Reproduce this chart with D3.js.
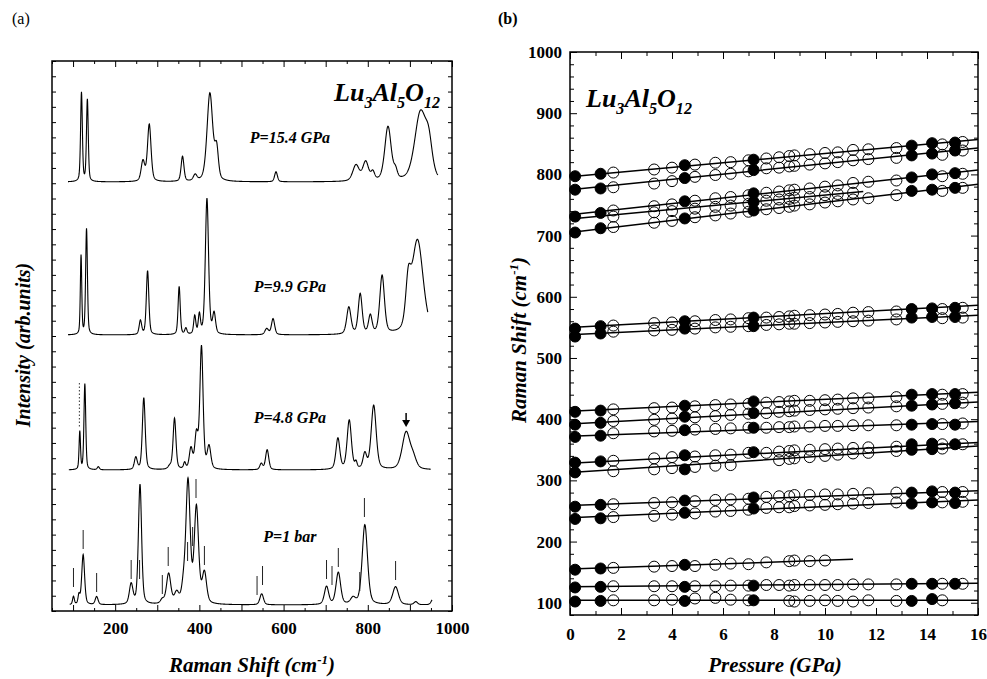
<!DOCTYPE html>
<html>
<head>
<meta charset="utf-8">
<script src="https://cdnjs.cloudflare.com/ajax/libs/d3/7.8.5/d3.min.js"></script>
<style>
body { margin: 0; background: #fff; }
text { font-family: "Liberation Serif", "Times New Roman", serif; }
</style>
</head>
<body>
<script>
// ---- panel (a): Raman spectra, peaks: [centre cm-1, height, fwhm]
var peaks1bar = [[101, 8, 5], [114, 9, 5], [124, 50, 8], [156, 8, 8], [238, 20, 10], [259, 120, 9],
    [312, 4, 10], [327, 30, 12], [346, 10, 12], [362, 14, 10], [373, 122, 12], [393, 95, 12],
    [412, 30, 12], [548, 11, 10], [702, 18, 12], [730, 32, 13], [765, 6, 14], [793, 80, 15],
    [866, 18, 16], [914, 3, 10], [955, 6, 10]];
var peaks48 = [[116, 38, 4], [128, 86, 5], [160, 3, 6], [249, 12, 8], [268, 72, 8], [330, 3, 10],
    [341, 51, 8], [365, 6, 6], [380, 20, 9], [393, 33, 9], [405, 122, 9], [423, 22, 10],
    [547, 6, 8], [561, 20, 9], [729, 31, 11], [756, 49, 12], [772, 6, 6], [793, 15, 10],
    [814, 64, 14], [891, 37, 22], [908, 10, 18]];
var peaks99 = [[119, 79, 4], [132, 106, 5], [260, 14, 7], [277, 64, 7], [352, 48, 6], [368, 6, 6],
    [389, 18, 6], [400, 19, 6], [418, 136, 9], [435, 20, 8], [560, 6, 10], [575, 16, 9],
    [755, 27, 12], [782, 40, 11], [806, 18, 10], [834, 58, 13], [896, 40, 14], [918, 94, 32]];
var peaks154 = [[120, 89, 5], [134, 82, 5], [266, 20, 10], [281, 57, 10], [360, 25, 8], [390, 6, 10],
    [425, 88, 16], [441, 30, 10], [582, 10, 8], [772, 16, 18], [795, 19, 16], [812, 8, 10],
    [848, 54, 18], [866, 8, 10], [925, 68, 32], [945, 30, 20]];
var specPeaks = [peaks1bar, peaks48, peaks99, peaks154];
var specNames = ["P=1 bar", "P=4.8 GPa", "P=9.9 GPa", "P=15.4 GPa"];
var specStart = [92, 90, 88, 88];
var specEnd = [953, 950, 943, 967];
var specOffset = [6, 141, 276, 429];
// mode marks over the 1 bar spectrum: [cm-1, top]
var modeMarks = [[101, 43], [124, 81], [156, 38], [238, 51], [258, 51], [312, 36], [326, 64],
    [372, 69], [384, 84], [392, 132], [412, 65], [537, 35], [550, 45], [702, 51], [715, 45],
    [730, 63], [781, 39], [792, 113], [866, 50]];

// ---- panel (b): mode frequencies vs pressure
var pressures = [0.2, 1.2, 1.7, 3.3, 4.0, 4.5, 4.9, 5.7, 6.3, 7.0, 7.2, 7.7, 8.2, 8.6, 8.8, 9.4,
    10.0, 10.5, 11.1, 11.7, 12.8, 13.4, 14.2, 14.6, 15.1, 15.4];
var filledRun = [1, 1, 0, 0, 0, 1, 0, 0, 0, 0, 1, 0, 0, 0, 0, 0, 0, 0, 0, 0, 0, 1, 1, 0, 1, 0];
var _ = null;
var modeShifts = [
    [797, 801, 803, 808, 811, 815, 816, 819, 820, 823, 824, 826, 828, 830, 831, 833, 835, 836, 840, 841, 843, 847, 851, 849, 852, 853],
    [775, 777, 779, 785, 789, 794, 796, 799, 801, 805, 807, 810, 811, 813, 814, 816, 818, 820, 823, 825, 827, 831, 834, 832, 839, 839],
    [731, 737, 741, 748, 751, 756, 757, 761, 763, 766, 769, 770, 772, 774, 775, 777, 780, 782, 786, 788, 790, 795, 800, 797, 802, 801],
    [_, _, 731, 738, 740, _, 744, 747, 749, 752, 755, 757, 759, 760, 762, 763, 766, 768, 770, _, _, _, _, _, _, _],
    [705, 712, 714, 721, 724, 728, 730, 733, 736, 739, 741, 743, 745, 747, 749, 751, 754, 756, 759, 761, 766, 773, 775, 773, 778, 778],
    [548, 552, 553, 557, 558, 560, 560, 562, 563, 565, 566, 566, 567, 568, 569, 570, 571, 572, 574, 575, 576, 580, 581, 580, 582, 582],
    [535, 540, 543, 545, 546, 548, 548, 550, 551, 552, 552, 554, 555, 556, 556, 557, 558, 559, 560, 561, 563, 566, 567, 565, 567, 566],
    [412, 414, 416, 418, 419, 422, 421, 423, 424, 425, 429, 427, 428, 429, 430, 430, 431, 432, 434, 434, 436, 440, 441, 440, 441, 441],
    [391, 394, 397, 399, 401, 404, 403, 405, 407, 409, 410, 410, 412, 413, 414, 415, 416, 417, 418, 419, 421, 422, 424, 425, 426, 427],
    [371, 373, 377, 380, 381, 382, 383, 384, 385, 386, 386, 386, 387, 387, 388, 388, 389, 389, 390, 390, 390, 391, 392, 392, 391, 393],
    [329, 331, 332, 336, 338, 341, 339, 341, 342, 345, 346, 345, 347, 348, 349, 350, 351, 352, 353, 354, 355, 359, 360, 359, 359, 359],
    [313, _, 315, 318, 320, 318, 322, 324, 325, _, _, _, 333, 335, 336, 338, 340, 342, 344, 345, 348, 350, 351, 352, _, _],
    [257, 260, 261, 263, 264, 267, 266, 268, 269, 270, 272, 273, 274, 274, 276, 276, 277, 277, 278, 279, 280, 280, 282, 281, 280, 281],
    [237, 238, 240, 242, 244, 247, 246, 249, 250, 252, 254, 255, 256, 256, 258, 259, 260, 261, 262, 263, 264, 262, 264, 264, 263, 265],
    [154, 156, 157, 159, 160, 162, 160, 162, 164, 163, _, 166, _, 168, 169, 168, 169, _, _, _, _, _, _, _, _, _],
    [125, 126, 127, 127, 127, 126, 127, 127, 128, 128, 128, 129, 129, 128, 129, 129, 129, 129, 130, 130, 130, 131, 131, 131, 131, 131],
    [102, 103, 104, 104, 105, 103, 107, 108, 105, 104, 104, _, _, 103, 102, 103, 104, 103, 102, 104, 103, 103, 106, 104, _, _]
];
// linear fits: [shift at P=0, shift at end, end pressure]
var fitLines = [[796, 857, 16], [775, 843, 16], [734, 807, 16], [727, 772, 11.5], [705, 784, 16],
    [550, 586, 16], [538, 570, 16], [413, 444, 16], [392, 428, 16], [372, 396, 16],
    [328, 362, 16], [313, 356, 16], [259, 283, 16], [239, 268, 16], [155, 171, 11.1],
    [126, 132, 16], [104, 104, 16]];

var w = 987, h = 679;
var svg = d3.select("body").append("svg").attr("width", w).attr("height", h);

function formula(x, y, size, anchor) {
    var t = svg.append("text").attr("x", x).attr("y", y).attr("text-anchor", anchor)
        .attr("font-size", size).attr("font-weight", "bold").attr("font-style", "italic");
    var sub = size * 0.62, d = size * 0.28;
    t.append("tspan").text("Lu");
    t.append("tspan").attr("dy", d).attr("font-size", sub).text("3");
    t.append("tspan").attr("dy", -d).text("Al");
    t.append("tspan").attr("dy", d).attr("font-size", sub).text("5");
    t.append("tspan").attr("dy", -d).text("O");
    t.append("tspan").attr("dy", d).attr("font-size", sub).text("12");
}

function ramanTitle(t) {
    t.append("tspan").text("Raman Shift (cm");
    t.append("tspan").attr("dy", -8).attr("font-size", 13).text("-1");
    t.append("tspan").attr("dy", 8).text(")");
}

function tickStyle(g) {
    g.selectAll("text").attr("font-family", "Liberation Serif, serif")
        .attr("font-size", 17).attr("font-weight", "bold").attr("fill", "#000");
    g.selectAll("line").attr("stroke", "#000");
    g.select(".domain").remove();
}

// ================= panel (a) =================
var aL = 52, aR = 452, aT = 61, aB = 611;
var xA = d3.scaleLinear().domain([50, 1000]).range([aL, aR]);
var yA = d3.scaleLinear().domain([0, 550]).range([aB, aT]);
var yTicksA = d3.range(37).map(function(i) { return i * 550 / 36; });

svg.append("g").attr("transform", "translate(0," + aB + ")")
    .call(d3.axisBottom(xA).tickValues(d3.range(100, 1001, 100)).tickSizeInner(-6).tickSizeOuter(0)
        .tickPadding(11).tickFormat(function(d) { return d % 200 === 0 ? d : ""; }))
    .call(tickStyle);
svg.append("g").attr("transform", "translate(0," + aB + ")")
    .call(d3.axisBottom(xA).tickValues(d3.range(50, 1000, 100)).tickSizeInner(-3).tickSizeOuter(0).tickFormat(""))
    .call(tickStyle);
svg.append("g").attr("transform", "translate(0," + aT + ")")
    .call(d3.axisTop(xA).tickValues(d3.range(100, 1001, 100)).tickSizeInner(-6).tickSizeOuter(0).tickFormat(""))
    .call(tickStyle);
svg.append("g").attr("transform", "translate(0," + aT + ")")
    .call(d3.axisTop(xA).tickValues(d3.range(50, 1000, 100)).tickSizeInner(-3).tickSizeOuter(0).tickFormat(""))
    .call(tickStyle);
svg.append("g").attr("transform", "translate(" + aL + ",0)")
    .call(d3.axisLeft(yA).tickValues(yTicksA).tickSizeInner(-4).tickSizeOuter(0).tickFormat(""))
    .call(tickStyle);
svg.append("g").attr("transform", "translate(" + aR + ",0)")
    .call(d3.axisRight(yA).tickValues(yTicksA).tickSizeInner(-4).tickSizeOuter(0).tickFormat(""))
    .call(tickStyle);
svg.append("rect").attr("x", aL).attr("y", aT).attr("width", aR - aL).attr("height", aB - aT)
    .attr("fill", "none").attr("stroke", "#000").attr("stroke-width", 1.5);

function intensity(wn, peaks) {
    return d3.sum(peaks, function(p) {
        var t = (wn - p[0]) / p[2];
        return p[1] * (0.4 / (1 + 4 * t * t) + 0.6 * Math.exp(-2.7726 * t * t));
    });
}

specPeaks.forEach(function(peaks, i) {
    var pts = d3.range(specStart[i], specEnd[i], 0.5);
    var line = d3.line()
        .x(function(d) { return xA(d); })
        .y(function(d) { return yA(specOffset[i] + intensity(d, peaks)); });
    svg.append("path").datum(pts).attr("d", line)
        .attr("fill", "none").attr("stroke", "#000").attr("stroke-width", 1.1);
    svg.append("text").attr("x", xA(615)).attr("y", yA(specOffset[i] + [63, 47, 43, 39][i]))
        .attr("text-anchor", "middle").attr("font-size", 16).attr("font-weight", "bold")
        .attr("font-style", "italic").text(specNames[i]);
});

svg.selectAll(".mark").data(modeMarks).enter().append("line")
    .attr("x1", function(d) { return xA(d[0]); }).attr("x2", function(d) { return xA(d[0]); })
    .attr("y1", function(d) { return yA(d[1]); }).attr("y2", function(d) { return yA(d[1] - 19); })
    .attr("stroke", "#222").attr("stroke-width", 1);

// dotted guide and arrow on the 4.8 GPa trace
svg.append("line").attr("x1", xA(115)).attr("x2", xA(115))
    .attr("y1", yA(specOffset[1] + 87)).attr("y2", yA(specOffset[1] + 43))
    .attr("stroke", "#333").attr("stroke-dasharray", "1.5,2");
svg.append("line").attr("x1", xA(891)).attr("x2", xA(891))
    .attr("y1", yA(specOffset[1] + 57)).attr("y2", yA(specOffset[1] + 48))
    .attr("stroke", "#000").attr("stroke-width", 1.5);
svg.append("path")
    .attr("d", "M" + (xA(891) - 4) + "," + yA(specOffset[1] + 50) + "L" + (xA(891) + 4) + "," + yA(specOffset[1] + 50)
        + "L" + xA(891) + "," + yA(specOffset[1] + 43) + "Z")
    .attr("fill", "#000");

formula(440, 101, 26, "end");

svg.append("text").attr("x", 12).attr("y", 24).attr("font-size", 16).text("(a)");
ramanTitle(svg.append("text").attr("x", 252).attr("y", 672).attr("text-anchor", "middle")
    .attr("font-size", 21).attr("font-weight", "bold").attr("font-style", "italic"));
svg.append("text").attr("transform", "translate(30,345) rotate(-90)").attr("text-anchor", "middle")
    .attr("font-size", 20).attr("font-weight", "bold").attr("font-style", "italic")
    .text("Intensity (arb.units)");

// ================= panel (b) =================
var bL = 570, bR = 978, bT = 52, bB = 615;
var xB = d3.scaleLinear().domain([0, 16]).range([bL, bR]);
var yB = d3.scaleLinear().domain([80, 1000]).range([bB, bT]);

svg.append("g").attr("transform", "translate(0," + bB + ")")
    .call(d3.axisBottom(xB).tickValues(d3.range(0, 17, 2)).tickSizeInner(-7).tickSizeOuter(0).tickPadding(13))
    .call(tickStyle);
svg.append("g").attr("transform", "translate(0," + bB + ")")
    .call(d3.axisBottom(xB).tickValues(d3.range(1, 16, 2)).tickSizeInner(-4).tickSizeOuter(0).tickFormat(""))
    .call(tickStyle);
svg.append("g").attr("transform", "translate(0," + bT + ")")
    .call(d3.axisTop(xB).tickValues(d3.range(0, 17, 2)).tickSizeInner(-7).tickSizeOuter(0).tickFormat(""))
    .call(tickStyle);
svg.append("g").attr("transform", "translate(0," + bT + ")")
    .call(d3.axisTop(xB).tickValues(d3.range(1, 16, 2)).tickSizeInner(-4).tickSizeOuter(0).tickFormat(""))
    .call(tickStyle);
svg.append("g").attr("transform", "translate(" + bL + ",0)")
    .call(d3.axisLeft(yB).tickValues(d3.range(100, 1001, 100)).tickSizeInner(-7).tickSizeOuter(0)
        .tickPadding(8).tickFormat(d3.format("d")))
    .call(tickStyle);
svg.append("g").attr("transform", "translate(" + bL + ",0)")
    .call(d3.axisLeft(yB).tickValues(d3.range(80, 1000, 20).filter(function(d) { return d % 100; }))
        .tickSizeInner(-4).tickSizeOuter(0).tickFormat(""))
    .call(tickStyle);
svg.append("g").attr("transform", "translate(" + bR + ",0)")
    .call(d3.axisRight(yB).tickValues(d3.range(100, 1001, 100)).tickSizeInner(-7).tickSizeOuter(0).tickFormat(""))
    .call(tickStyle);
svg.append("g").attr("transform", "translate(" + bR + ",0)")
    .call(d3.axisRight(yB).tickValues(d3.range(80, 1000, 20).filter(function(d) { return d % 100; }))
        .tickSizeInner(-4).tickSizeOuter(0).tickFormat(""))
    .call(tickStyle);

svg.append("g").selectAll("line").data(fitLines).enter().append("line")
    .attr("x1", xB(0)).attr("y1", function(d) { return yB(d[0]); })
    .attr("x2", function(d) { return xB(d[2]); }).attr("y2", function(d) { return yB(d[1]); })
    .attr("stroke", "#000").attr("stroke-width", 1.5);

var pts = [];
modeShifts.forEach(function(row) {
    row.forEach(function(v, j) {
        if (v !== null) pts.push({ p: pressures[j], v: v, filled: filledRun[j] === 1 });
    });
});
pts.sort(function(a, b) { return a.filled - b.filled; });
svg.append("g").selectAll("circle").data(pts).enter().append("circle")
    .attr("cx", function(d) { return xB(d.p); })
    .attr("cy", function(d) { return yB(d.v); })
    .attr("r", 5.5)
    .attr("fill", function(d) { return d.filled ? "#000" : "none"; })
    .attr("stroke", "#000").attr("stroke-width", 1);

svg.append("rect").attr("x", bL).attr("y", bT).attr("width", bR - bL).attr("height", bB - bT)
    .attr("fill", "none").attr("stroke", "#000").attr("stroke-width", 1.5);

formula(586, 107, 26, "start");

svg.append("text").attr("x", 498).attr("y", 24).attr("font-size", 16).attr("font-weight", "bold").text("(b)");
svg.append("text").attr("x", 775).attr("y", 672).attr("text-anchor", "middle")
    .attr("font-size", 21).attr("font-weight", "bold").attr("font-style", "italic").text("Pressure (GPa)");
ramanTitle(svg.append("text").attr("transform", "translate(526,340) rotate(-90)").attr("text-anchor", "middle")
    .attr("font-size", 21).attr("font-weight", "bold").attr("font-style", "italic"));
</script>
</body>
</html>
